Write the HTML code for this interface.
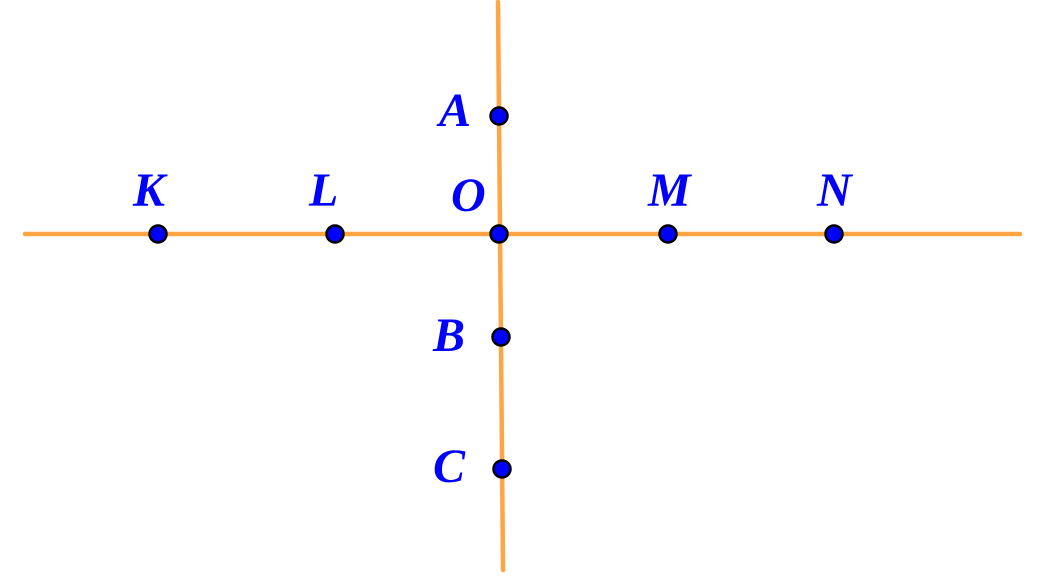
<!DOCTYPE html>
<html><head><style>html,body{margin:0;padding:0;background:#fff;}</style></head>
<body>
<svg width="1044" height="574" viewBox="0 0 1044 574" xmlns="http://www.w3.org/2000/svg">
<g stroke="#FFA544" stroke-width="4.5" stroke-linecap="round">
<line x1="25" y1="234" x2="1020" y2="234"/>
<line x1="498" y1="2" x2="503" y2="570"/>
</g>
<g fill="#0000FF" stroke="#000" stroke-width="2.5">
<circle cx="158" cy="234" r="8.5"/>
<circle cx="335" cy="234" r="8.5"/>
<circle cx="499" cy="234" r="8.5"/>
<circle cx="668" cy="234" r="8.5"/>
<circle cx="834" cy="234" r="8.5"/>
<circle cx="499" cy="116" r="8.5"/>
<circle cx="501" cy="337" r="8.5"/>
<circle cx="502" cy="469" r="8.5"/>
</g>
<g fill="#0000FF" font-family="'Liberation Serif', serif" font-weight="bold" font-style="italic" font-size="48">
<text x="439" y="126">A</text>
<text x="133" y="206">K</text>
<text x="309" y="206">L</text>
<text x="451" y="211">O</text>
<text x="648" y="206">M</text>
<text x="817" y="206">N</text>
<text x="433" y="351">B</text>
<text x="433" y="482">C</text>
</g>
</svg>
</body></html>
